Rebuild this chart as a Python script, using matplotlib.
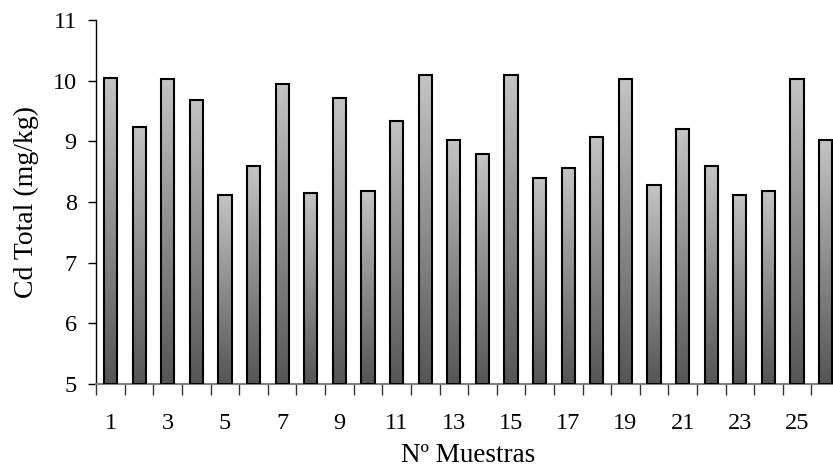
import numpy as np
import matplotlib
matplotlib.use("Agg")
import matplotlib.pyplot as plt
from matplotlib.colors import LinearSegmentedColormap

# Cd total per sample (mg/kg)
samples = list(range(1, 27))
cd_total = [10.05, 9.24, 10.02, 9.68, 8.12, 8.59, 9.95, 8.15, 9.71, 8.18,
            9.34, 10.09, 9.03, 8.79, 10.09, 8.39, 8.56, 9.07, 10.02, 8.28,
            9.20, 8.59, 8.12, 8.18, 10.02, 9.03]
tick_labels = [str(s) if s % 2 == 1 else "" for s in samples]
y_min, y_max = 5, 11

plt.rcParams["font.family"] = ["Liberation Serif", "DejaVu Serif"]
plt.rcParams["font.size"] = 17.5

fig = plt.figure(figsize=(8.33, 4.72), dpi=100)
ax = fig.add_axes([0.1156, 0.1864, 0.8927, 0.7712])

grad = LinearSegmentedColormap.from_list("bar_grad", ["#555555", "#c4c4c4"])
gradient = np.linspace(0, 1, 256).reshape(-1, 1)

bars = ax.bar(samples, np.array(cd_total) - y_min, bottom=y_min, width=0.46,
              facecolor="none", edgecolor="black", linewidth=1.5, zorder=3)
for b in bars:
    x0 = b.get_x()
    x1 = x0 + b.get_width()
    top = b.get_y() + b.get_height()
    im = ax.imshow(gradient, cmap=grad, origin="lower", aspect="auto",
                   extent=(x0, x1, y_min, top), zorder=2)
    im.set_clip_path(b)

ax.set_xlim(0.5, 26.5)
ax.set_ylim(y_min, y_max)

# ticks between categories, labels under every other bar
ax.set_xticks(np.arange(0.5, 26.5, 1.0))
ax.set_xticklabels([])
ax.set_xticks(samples, minor=True)
ax.set_xticklabels(tick_labels, minor=True)
ax.tick_params(axis="x", which="major", length=8, width=1, color="#333333")
ax.tick_params(axis="x", which="minor", length=0, pad=21)
ax.set_yticks(range(y_min, y_max + 1))
ax.tick_params(axis="y", length=6, width=1, pad=8)

for side in ("top", "right"):
    ax.spines[side].set_visible(False)
ax.spines["left"].set_linewidth(1)
ax.spines["bottom"].set_color("#808080")
ax.spines["bottom"].set_linewidth(1.5)

ax.set_ylabel("Cd Total (mg/kg)", fontsize=20, labelpad=10)
ax.set_xlabel("Nº Muestras", fontsize=19.5, labelpad=6)

fig.savefig("out.png", dpi=100)
